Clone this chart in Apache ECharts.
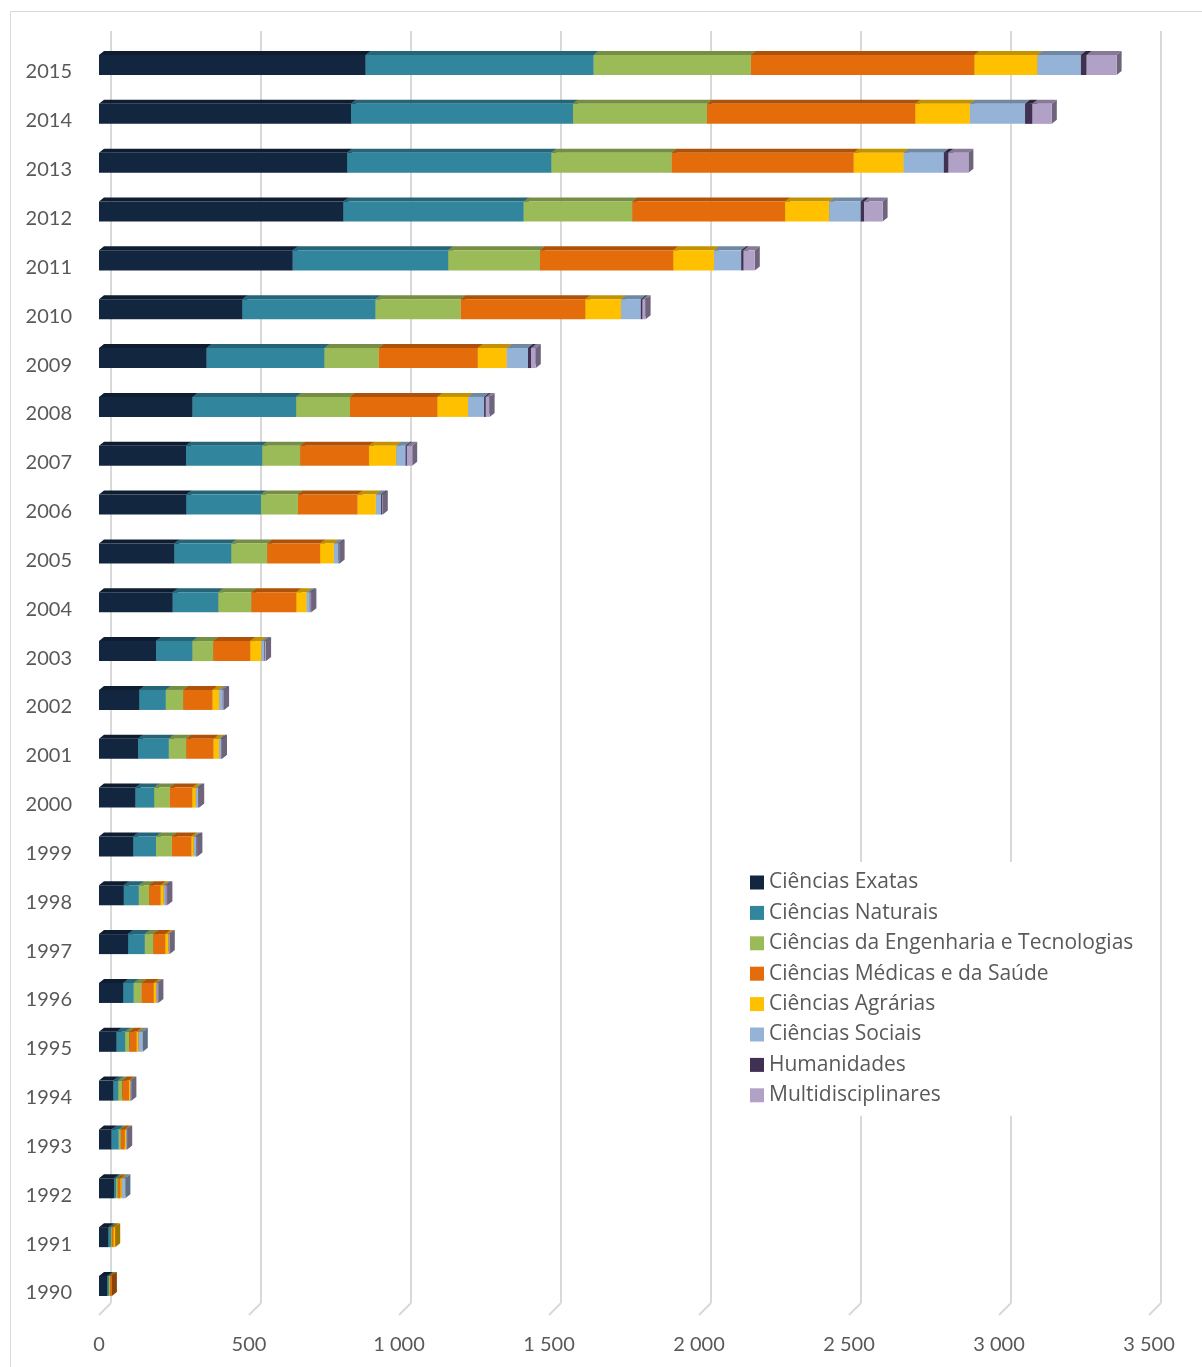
<!DOCTYPE html>
<html>
<head>
<meta charset="utf-8">
<title>Publicações por área científica</title>
<script src="https://cdn.jsdelivr.net/npm/echarts@6/dist/echarts.min.js"></script>
<style>
  html, body { margin: 0; padding: 0; background: #fff; }
  #chart { width: 1202px; height: 1367px; }
</style>
</head>
<body>
<div id="chart"></div>
<script>
// anos (de baixo para cima)
const years = ["1990", "1991", "1992", "1993", "1994", "1995", "1996", "1997", "1998", "1999",
  "2000", "2001", "2002", "2003", "2004", "2005", "2006", "2007", "2008", "2009",
  "2010", "2011", "2012", "2013", "2014", "2015"];

const seriesNames = [
  "Ciências Exatas",
  "Ciências Naturais",
  "Ciências da Engenharia e Tecnologias",
  "Ciências Médicas e da Saúde",
  "Ciências Agrárias",
  "Ciências Sociais",
  "Humanidades",
  "Multidisciplinares"
];

// valores, 1990 -> 2015
const exatas = [28, 32, 50, 42, 48, 59, 81, 97, 83, 114, 122, 130, 134, 190, 246, 251, 291, 290, 312, 359, 478, 646, 815, 827, 840, 889];
const naturais = [4, 7, 6, 24, 16, 28, 35, 56, 50, 76, 62, 103, 89, 122, 152, 190, 249, 254, 345, 393, 444, 518, 601, 681, 740, 760];
const engenharia = [5, 4, 7, 7, 14, 14, 26, 28, 34, 53, 52, 58, 58, 69, 110, 120, 123, 127, 180, 181, 284, 306, 362, 401, 447, 524];
const medicas = [6, 5, 8, 13, 22, 25, 41, 40, 39, 65, 75, 91, 97, 123, 150, 176, 199, 229, 291, 330, 415, 444, 509, 607, 694, 745];
const agrarias = [0, 6, 5, 4, 4, 6, 8, 11, 10, 8, 12, 18, 22, 37, 34, 46, 61, 91, 102, 96, 119, 136, 147, 166, 182, 210];
const sociais = [0, 0, 12, 2, 2, 14, 3, 1, 7, 8, 8, 7, 13, 11, 11, 16, 17, 31, 54, 71, 66, 91, 105, 134, 184, 145];
const humanidades = [0, 0, 0, 0, 0, 0, 0, 0, 1, 1, 1, 1, 1, 1, 1, 1, 3, 4, 5, 10, 5, 7, 11, 15, 24, 19];
const multi = [0, 0, 0, 2, 2, 0, 4, 3, 4, 3, 2, 2, 3, 4, 4, 2, 3, 18, 13, 16, 11, 38, 62, 67, 65, 100];

const xTicks = [0, 500, 1000, 1500, 2000, 2500, 3000, 3500];

const colors = ["#12263f", "#31859c", "#9bbb59", "#e46c0a", "#ffc000", "#95b3d7", "#403152", "#b2a1c7"];

(function () {
  const FONT = "Lato, 'Open Sans', sans-serif";
  const LEGEND_FONT = "'Open Sans', Lato, sans-serif";
  const TEXT = "#595959";
  const GRID = "#d9d9d9";

  // profundidade do efeito 3D
  const DX = 5;
  const DY = 4;

  function shade(hex, k) {
    const n = parseInt(hex.slice(1), 16);
    const r = Math.round(((n >> 16) & 255) * k);
    const g = Math.round(((n >> 8) & 255) * k);
    const b = Math.round((n & 255) * k);
    return `rgb(${r},${g},${b})`;
  }

  function fmt(v) {
    return String(v).replace(/\B(?=(\d{3})+(?!\d))/g, " ");
  }

  const allValues = [exatas, naturais, engenharia, medicas, agrarias, sociais, humanidades, multi];

  // empilhar: [inicio, fim, indiceAno]
  const cum = years.map(() => 0);
  const stacked = allValues.map((arr) =>
    arr.map((v, i) => {
      const s = cum[i];
      cum[i] += v;
      return [s, cum[i], i];
    })
  );

  function makeRender(color) {
    const top = shade(color, 0.76);
    const side = shade(color, 0.62);
    return function (params, api) {
      const s = api.value(0);
      const e = api.value(1);
      if (e - s <= 0) return;
      const cat = api.value(2);
      const a = api.coord([s, cat]);
      const b = api.coord([e, cat]);
      const band = api.size([0, 1])[1];
      const h = band * 0.41;
      const y0 = a[1] - h / 2;
      const y1 = a[1] + h / 2;
      const x0 = a[0];
      const x1 = b[0];
      return {
        type: "group",
        children: [
          {
            type: "polygon",
            shape: { points: [[x0, y0], [x0 + DX, y0 - DY], [x1 + DX, y0 - DY], [x1, y0]] },
            style: { fill: top }
          },
          {
            type: "polygon",
            shape: { points: [[x1, y0], [x1 + DX, y0 - DY], [x1 + DX, y1 - DY], [x1, y1]] },
            style: { fill: side }
          },
          {
            type: "rect",
            shape: { x: x0, y: y0, width: x1 - x0, height: h },
            style: { fill: color }
          }
        ]
      };
    };
  }

  const barSeries = seriesNames.map((name, k) => ({
    name,
    type: "custom",
    xAxisIndex: 0,
    yAxisIndex: 0,
    renderItem: makeRender(colors[k]),
    itemStyle: { color: colors[k] },
    encode: { x: [0, 1], y: 2 },
    clip: false,
    z: 3,
    data: stacked[k]
  }));

  // linhas do "chão" (diagonais no fundo das linhas de grelha)
  const floorSeries = {
    type: "custom",
    xAxisIndex: 1,
    yAxisIndex: 1,
    silent: true,
    clip: false,
    z: 1,
    renderItem: function (params, api) {
      const p = api.coord([api.value(0), 0]);
      return {
        type: "line",
        shape: { x1: p[0], y1: p[1], x2: p[0] - 12, y2: p[1] + 12 },
        style: { stroke: GRID, lineWidth: 2 }
      };
    },
    encode: { x: 0, y: 1 },
    data: xTicks.map((v) => [v, 0])
  };

  const chart = echarts.init(document.getElementById("chart"));

  chart.setOption({
    animation: false,
    color: colors,
    textStyle: { fontFamily: FONT },
    graphic: [
      {
        type: "rect",
        shape: { x: 10.5, y: 11.5, width: 1200, height: 1380 },
        style: { fill: "none", stroke: GRID, lineWidth: 1 },
        z: 0
      }
    ],
    grid: [
      { left: 99, right: 53, top: 40.6, bottom: 56.6 },
      { left: 111, right: 41, top: 31, bottom: 64 }
    ],
    xAxis: [
      {
        type: "value",
        gridIndex: 0,
        min: 0,
        max: 3500,
        interval: 500,
        axisLine: { show: false },
        axisTick: { show: false },
        splitLine: { show: false },
        axisLabel: {
          color: TEXT,
          fontSize: 20,
          fontFamily: FONT,
          margin: 24,
          formatter: fmt
        }
      },
      {
        type: "value",
        gridIndex: 1,
        min: 0,
        max: 3500,
        interval: 500,
        axisLine: { show: false },
        axisTick: { show: false },
        axisLabel: { show: false },
        splitLine: { show: true, lineStyle: { color: GRID, width: 2 } }
      }
    ],
    yAxis: [
      {
        type: "category",
        gridIndex: 0,
        data: years,
        axisLine: { show: false },
        axisTick: { show: false },
        splitLine: { show: false },
        axisLabel: {
          color: TEXT,
          fontSize: 20,
          fontFamily: FONT,
          margin: 27,
          verticalAlign: "top",
          lineHeight: 14
        }
      },
      {
        type: "value",
        gridIndex: 1,
        min: 0,
        max: 1,
        show: false
      }
    ],
    legend: {
      orient: "vertical",
      left: 744,
      top: 862,
      padding: [10, 12, 10, 6],
      backgroundColor: "#fff",
      itemWidth: 14,
      itemHeight: 14,
      itemGap: 9.4,
      icon: "rect",
      data: seriesNames,
      textStyle: { color: TEXT, fontSize: 21, fontFamily: LEGEND_FONT, lineHeight: 20 },
      selectedMode: false,
      z: 10
    },
    series: [floorSeries].concat(barSeries)
  });

  window.addEventListener("resize", () => chart.resize());
})();
</script>
</body>
</html>
